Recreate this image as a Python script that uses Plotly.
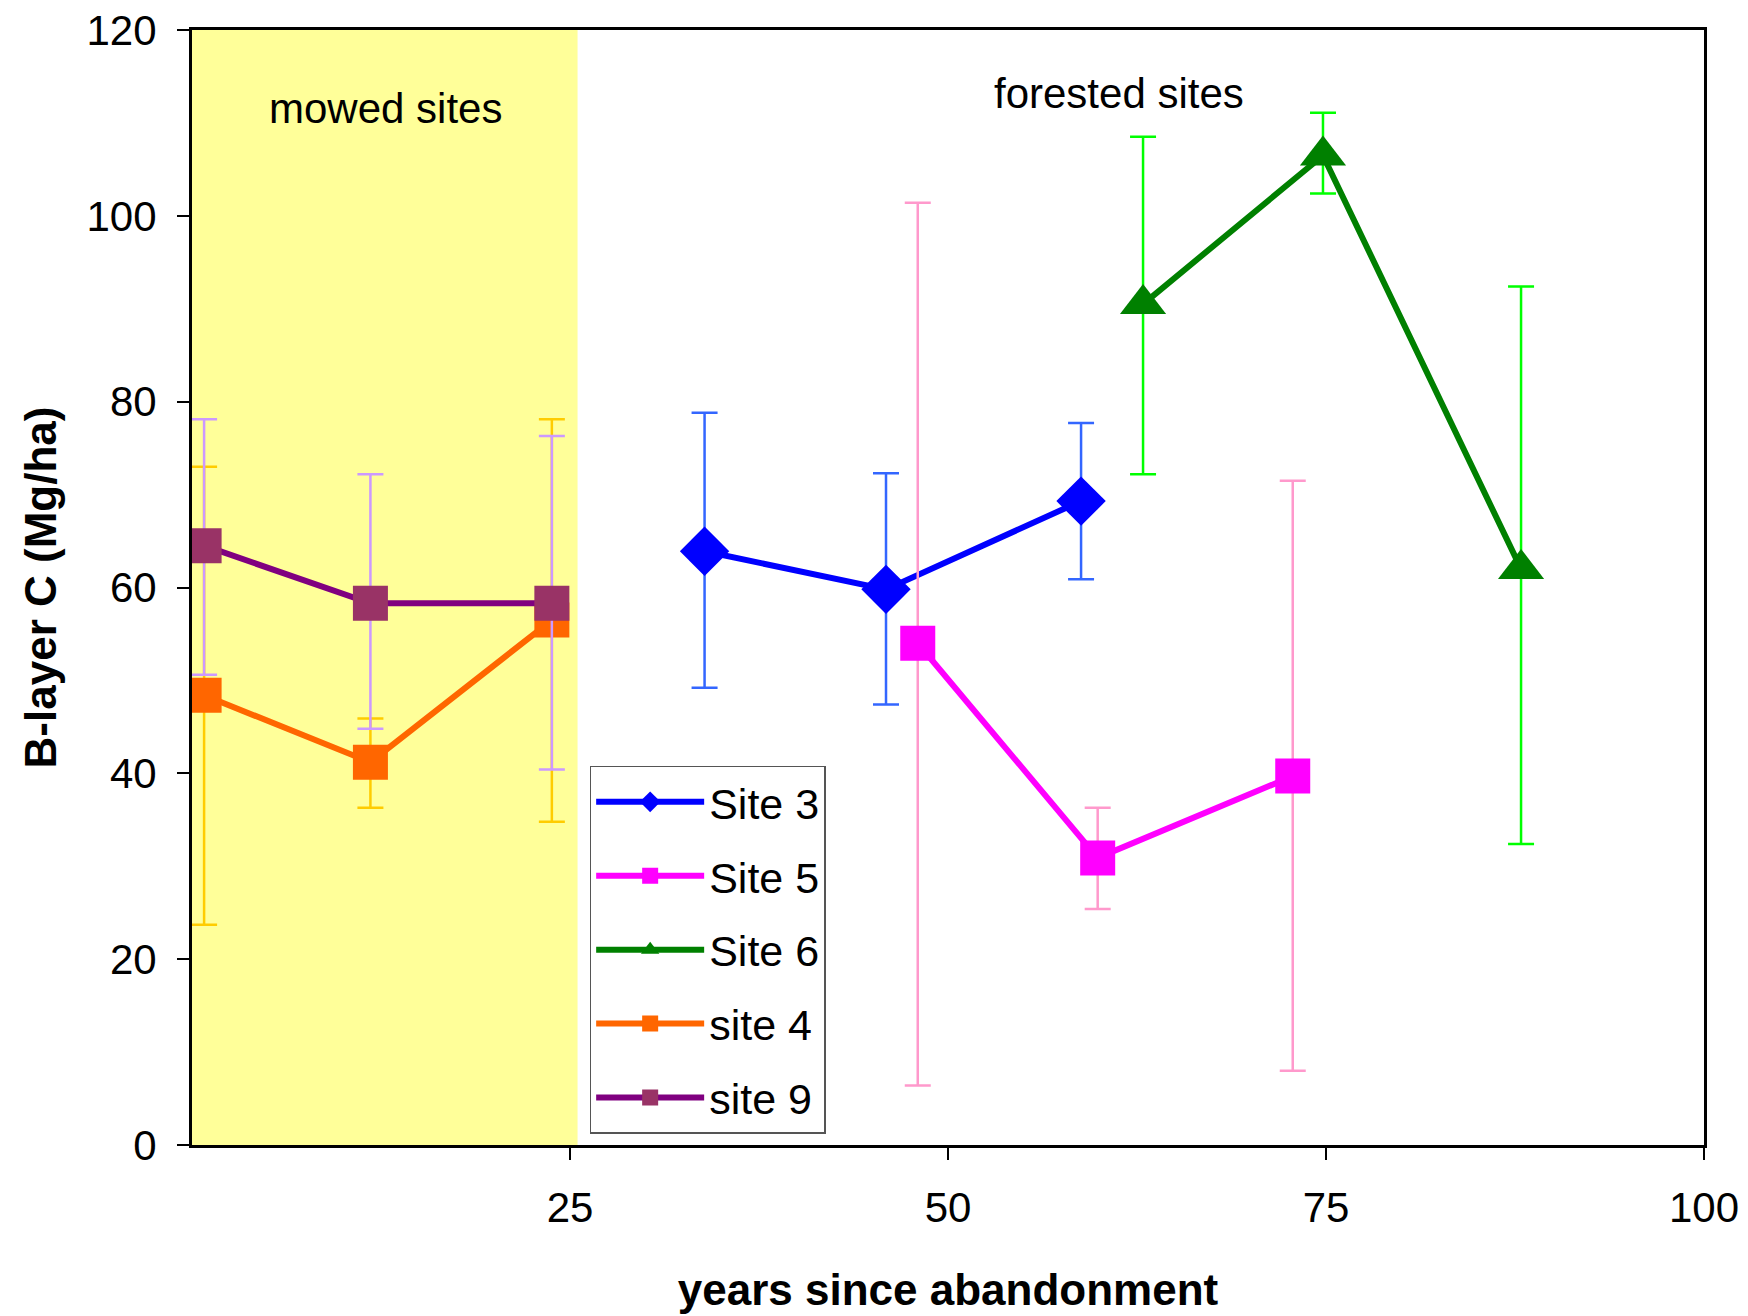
import plotly.graph_objects as go

# ---- data ----
site3_x = [33.9, 45.9, 58.8]
site3_y = [63.9, 59.8, 69.3]
site3_hi = [78.8, 72.3, 77.7]
site3_lo = [49.2, 47.4, 60.9]

site5_x = [48.0, 59.9, 72.8]
site5_y = [54.0, 30.9, 39.7]
site5_hi = [101.4, 36.3, 71.5]
site5_lo = [6.4, 25.4, 8.0]

site6_x = [62.9, 74.8, 87.9]
site6_y = [90.5, 106.5, 62.0]
site6_hi = [108.5, 111.1, 92.4]
site6_lo = [72.2, 102.4, 32.4]

site4_x = [0.8, 11.8, 23.8]
site4_y = [48.4, 41.2, 56.5]
site4_hi = [73.0, 45.9, 78.1]
site4_lo = [23.7, 36.3, 34.8]

site9_x = [0.8, 11.8, 23.8]
site9_y = [64.5, 58.3, 58.3]
site9_hi = [78.1, 72.2, 76.3]
site9_lo = [50.6, 44.8, 40.4]

x_ticks = [25, 50, 75, 100]
y_ticks = [0, 20, 40, 60, 80, 100, 120]
mowed_range = [0, 25.5]

series = [
    ("Site 3", site3_x, site3_y, site3_hi, site3_lo, "#0000FF", "#0000FF", "#3366FF", "diamond", 38),
    ("Site 5", site5_x, site5_y, site5_hi, site5_lo, "#FF00FF", "#FF00FF", "#FF99CC", "square", 35),
    ("Site 6", site6_x, site6_y, site6_hi, site6_lo, "#008000", "#008000", "#00FF00", "triangle-up", 40),
    ("site 4", site4_x, site4_y, site4_hi, site4_lo, "#FF6600", "#FF6600", "#FFCC00", "square", 35),
    ("site 9", site9_x, site9_y, site9_hi, site9_lo, "#800080", "#993366", "#CC99FF", "square", 35),
]

FONT = "Liberation Sans, Arial, sans-serif"

fig = go.Figure()
for i, (name, xs, ys, hi, lo, lc, mc, ec, sym, sz) in enumerate(series):
    fig.add_trace(go.Scatter(
        x=xs, y=ys, name=name, mode="lines+markers",
        legendgroup=f"g{i}",
        line=dict(color=lc, width=6),
        marker=dict(symbol=sym, size=sz, color=mc, line=dict(width=0)),
        error_y=dict(type="data", symmetric=False,
                     array=[h - v for h, v in zip(hi, ys)],
                     arrayminus=[v - l for l, v in zip(lo, ys)],
                     color=ec, thickness=2.5, width=13),
    ))

fig.add_shape(type="rect", xref="x", yref="y",
              x0=mowed_range[0], x1=mowed_range[1], y0=0, y1=120,
              fillcolor="#FFFF99", line=dict(width=0), layer="below")

fig.add_annotation(x=12.8, y=111.6, text="mowed sites", showarrow=False,
                   font=dict(family=FONT, size=42, color="black"))
fig.add_annotation(x=61.3, y=113.2, text="forested sites", showarrow=False,
                   font=dict(family=FONT, size=42, color="black"))

fig.update_layout(
    width=1748, height=1316,
    margin=dict(l=192, r=44, t=30, b=171, autoexpand=False),
    paper_bgcolor="white", plot_bgcolor="white",
    font=dict(family=FONT, color="black"),
    showlegend=True,
    legend=dict(x=0.263, y=0.34, xanchor="left", yanchor="top",
                bgcolor="white", bordercolor="#555555", borderwidth=1.5,
                font=dict(family=FONT, size=43, color="black"),
                tracegroupgap=15, itemsizing="trace", itemwidth=108),
    xaxis=dict(range=[0, 100], tickvals=x_ticks, ticks="outside", ticklen=12,
               tickwidth=1.5, tickcolor="black", showgrid=False, zeroline=False,
               showline=True, linecolor="black", linewidth=3, mirror=True,
               automargin=False,
               tickfont=dict(family=FONT, size=42, color="black"),
               ticklabelstandoff=12,
               title=dict(text="<b>years since abandonment</b>",
                          font=dict(family=FONT, size=44, color="black"),
                          standoff=44)),
    yaxis=dict(range=[0, 120], tickvals=y_ticks, ticks="outside", ticklen=12,
               tickwidth=1.5, tickcolor="black", showgrid=False, zeroline=False,
               showline=True, linecolor="black", linewidth=3, mirror=True,
               automargin=False,
               tickfont=dict(family=FONT, size=42, color="black"),
               ticklabelstandoff=12,
               title=dict(text="<b>B-layer C (Mg/ha)</b>",
                          font=dict(family=FONT, size=44, color="black"),
                          standoff=17)),
)

fig.write_html("out.html")
